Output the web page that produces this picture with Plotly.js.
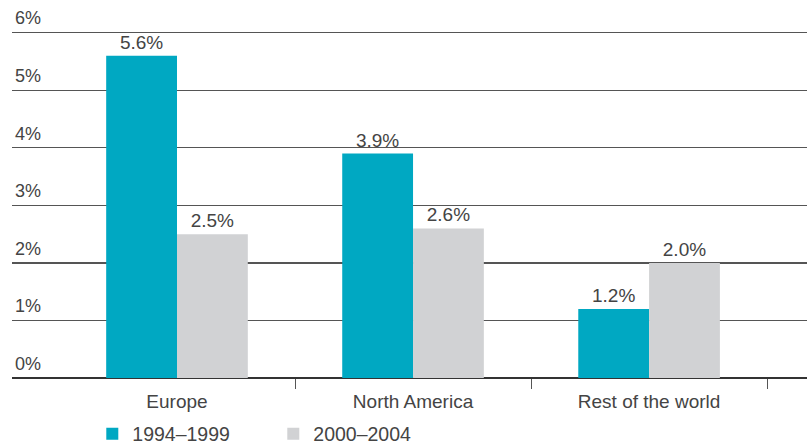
<!DOCTYPE html>
<html>
<head>
<meta charset="utf-8">
<script src="https://cdn.plot.ly/plotly-3.0.1.min.js"></script>
<style>
  html, body { margin: 0; padding: 0; background: #fff; }
  #chart { width: 812px; height: 447px; }
</style>
</head>
<body>
<div id="chart"></div>
<script>
// Average annual growth by region, two periods
const regions = ["Europe", "North America", "Rest of the world"];
const growth1994to1999 = [5.6, 3.9, 1.2];
const growth2000to2004 = [2.5, 2.6, 2.0];
const seriesNames = ["1994\u20131999", "2000\u20132004"];
const yTickValues = [0, 1, 2, 3, 4, 5, 6];
const yTickLabels = ["0%", "1%", "2%", "3%", "4%", "5%", "6%"];
// separators between region groups
const groupDividers = [0.5, 1.5, 2.5];

const TEAL = "#00a8c2";
const GREY = "#d1d2d4";
const TEXT = "#444444";
const FONT = "Liberation Sans, Arial, sans-serif";

const xRange = [-0.699, 2.669];
// headroom above the top gridline so its label stays inside the plot
const yRange = [0, 6.5];

const traces = [
  {
    type: "bar", name: seriesNames[0], x: regions, y: growth1994to1999,
    marker: { color: TEAL },
    texttemplate: "%{y:.1f}%", textposition: "outside", cliponaxis: false,
    textfont: { family: FONT, size: 19, color: TEXT },
    hoverinfo: "skip"
  },
  {
    type: "bar", name: seriesNames[1], x: regions, y: growth2000to2004,
    marker: { color: GREY },
    texttemplate: "%{y:.1f}%", textposition: "outside", cliponaxis: false,
    textfont: { family: FONT, size: 19, color: TEXT },
    hoverinfo: "skip"
  },
  // invisible trace that carries the divider ticks axis
  {
    type: "scatter", x: groupDividers, y: [0, 0, 0], xaxis: "x2",
    mode: "none", showlegend: false, hoverinfo: "skip"
  }
];

const layout = {
  width: 812, height: 447,
  margin: { l: 12, r: 5, t: 4, b: 69, autoexpand: false },
  paper_bgcolor: "#fff", plot_bgcolor: "#fff",
  font: { family: FONT, size: 18, color: TEXT },
  barmode: "group", bargap: 0.4, bargroupgap: 0,
  showlegend: true,
  legend: {
    orientation: "h", x: 0.101, xanchor: "left", y: -0.098, yanchor: "top",
    font: { family: FONT, size: 19.5, color: TEXT },
    entrywidth: 136, entrywidthmode: "pixels",
    traceorder: "normal"
  },
  xaxis: {
    type: "category", range: xRange,
    showgrid: false, zeroline: false, showline: false,
    ticks: "", tickfont: { family: FONT, size: 19, color: TEXT },
    ticklabelstandoff: 10, fixedrange: true
  },
  xaxis2: {
    overlaying: "x", anchor: "y", side: "bottom", range: xRange,
    tickmode: "array", tickvals: groupDividers, showticklabels: false,
    ticks: "outside", ticklen: 10, tickwidth: 1, tickcolor: "#555",
    showgrid: false, zeroline: false, showline: false, fixedrange: true
  },
  yaxis: {
    range: yRange, tickmode: "array", tickvals: yTickValues, ticktext: yTickLabels,
    ticklabelposition: "inside top", ticklabelshift: -2,
    tickfont: { family: FONT, size: 18, color: TEXT },
    showgrid: true, gridcolor: "#555", gridwidth: 1.2,
    zeroline: true, zerolinecolor: "#333", zerolinewidth: 1.6,
    showline: false, ticks: "", fixedrange: true
  }
};

Plotly.newPlot("chart", traces, layout, { displayModeBar: false, staticPlot: true });
</script>
</body>
</html>
